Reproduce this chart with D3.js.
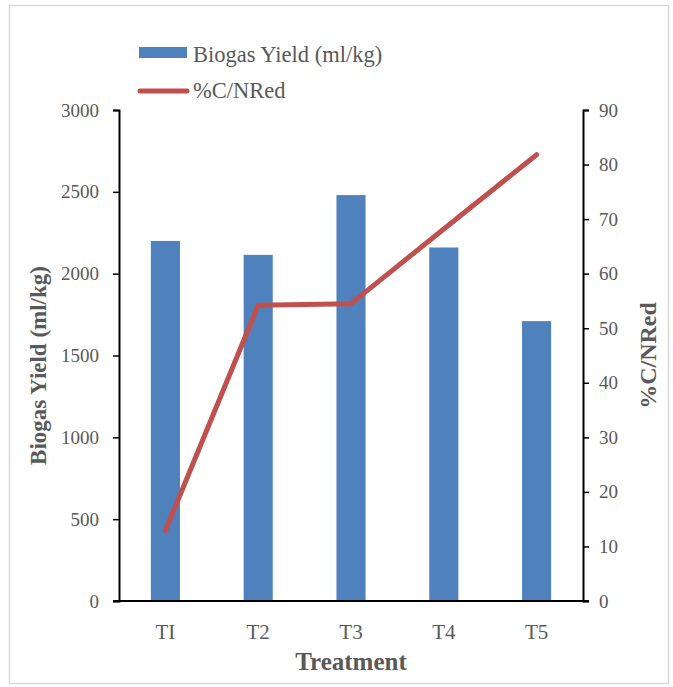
<!DOCTYPE html>
<html>
<head>
<meta charset="utf-8">
<script src="https://cdn.jsdelivr.net/npm/d3@7"></script>
<style>
  html, body { margin: 0; padding: 0; background: #fff; }
  svg { display: block; }
</style>
</head>
<body>
<svg id="chart" width="673" height="687"></svg>
<script>
// Treatments and measured values
const categories = ["TI", "T2", "T3", "T4", "T5"];
const biogasYield = [2200, 2115, 2480, 2160, 1710];   // ml/kg
const cnReduction = [12.9, 54.2, 54.5, 68.2, 81.8];   // %C/N reduction
const leftTicks = [0, 500, 1000, 1500, 2000, 2500, 3000];
const rightTicks = [0, 10, 20, 30, 40, 50, 60, 70, 80, 90];

const W = 673, H = 687;
const margin = { left: 119, right: 90, top: 110, bottom: 86 };
const plotL = margin.left, plotR = W - margin.right;
const plotT = margin.top, plotB = H - margin.bottom;

const barColor = "#4F81BD";
const lineColor = "#C0504D";
const textColor = "#595959";
const font = "'Liberation Serif', 'Times New Roman', serif";

const svg = d3.select("#chart");

// outer frame
svg.append("rect")
  .attr("x", 9.5).attr("y", 5.5)
  .attr("width", W - 14).attr("height", H - 9)
  .attr("fill", "#fff").attr("stroke", "#d9d9d9").attr("stroke-width", 1.5);

const x = d3.scaleBand().domain(categories).range([plotL, plotR]).padding(0);
const yL = d3.scaleLinear().domain([0, 3000]).range([plotB, plotT]);
const yR = d3.scaleLinear().domain([0, 90]).range([plotB, plotT]);
const barW = x.bandwidth() / 3.19;

// bars
svg.append("g").selectAll("rect")
  .data(categories)
  .join("rect")
  .attr("x", d => x(d) + x.bandwidth() / 2 - barW / 2)
  .attr("y", (d, i) => yL(biogasYield[i]))
  .attr("width", barW)
  .attr("height", (d, i) => plotB - yL(biogasYield[i]))
  .attr("fill", barColor);

// line series
const line = d3.line()
  .x(d => x(d.c) + x.bandwidth() / 2)
  .y(d => yR(d.v));
svg.append("path")
  .datum(categories.map((c, i) => ({ c, v: cnReduction[i] })))
  .attr("d", line)
  .attr("fill", "none")
  .attr("stroke", lineColor)
  .attr("stroke-width", 5)
  .attr("stroke-linejoin", "round")
  .attr("stroke-linecap", "round");

// axes
function styleAxis(size) {
  return g => {
    g.selectAll(".domain").attr("stroke", "#000").attr("stroke-width", 2);
    g.selectAll(".tick line").attr("stroke", "#000").attr("stroke-width", 1.5);
    g.selectAll(".tick text")
      .attr("fill", textColor)
      .style("font-family", font)
      .style("font-size", size + "px");
  };
}

svg.append("g")
  .attr("transform", `translate(${plotL},0)`)
  .call(d3.axisLeft(yL).tickValues(leftTicks).tickSize(6).tickSizeOuter(6).tickPadding(14).tickFormat(d3.format("d")))
  .call(styleAxis(19));

svg.append("g")
  .attr("transform", `translate(${plotR},0)`)
  .call(d3.axisRight(yR).tickValues(rightTicks).tickSize(6).tickSizeOuter(6).tickPadding(10).tickFormat(d3.format("d")))
  .call(styleAxis(19));

const xAxis = svg.append("g")
  .attr("transform", `translate(0,${plotB})`)
  .call(d3.axisBottom(x).tickSize(0).tickPadding(23))
  .call(styleAxis(21));
xAxis.select(".domain").attr("d", `M${plotL - 6},0H${plotR + 6}`);

// axis titles
svg.append("text")
  .attr("transform", `translate(46,${(plotT + plotB) / 2 + 10}) rotate(-90)`)
  .attr("text-anchor", "middle")
  .attr("fill", textColor)
  .style("font-family", font).style("font-size", "23px").style("font-weight", "bold")
  .text("Biogas Yield (ml/kg)");

svg.append("text")
  .attr("transform", `translate(656,${(plotT + plotB) / 2}) rotate(-90)`)
  .attr("text-anchor", "middle")
  .attr("fill", textColor)
  .style("font-family", font).style("font-size", "24px").style("font-weight", "bold")
  .text("%C/NRed");

svg.append("text")
  .attr("x", (plotL + plotR) / 2).attr("y", 670)
  .attr("text-anchor", "middle")
  .attr("fill", textColor)
  .style("font-family", font).style("font-size", "25px").style("font-weight", "bold")
  .text("Treatment");

// legend
const legend = svg.append("g");
legend.append("rect")
  .attr("x", 139).attr("y", 47).attr("width", 48).attr("height", 11)
  .attr("fill", barColor);
legend.append("text")
  .attr("x", 193).attr("y", 62)
  .attr("fill", textColor)
  .style("font-family", font).style("font-size", "22.5px")
  .text("Biogas Yield (ml/kg)");
legend.append("line")
  .attr("x1", 140).attr("x2", 187).attr("y1", 91).attr("y2", 91)
  .attr("stroke", lineColor).attr("stroke-width", 5).attr("stroke-linecap", "round");
legend.append("text")
  .attr("x", 193).attr("y", 98)
  .attr("fill", textColor)
  .style("font-family", font).style("font-size", "22.5px")
  .text("%C/NRed");
</script>
</body>
</html>
